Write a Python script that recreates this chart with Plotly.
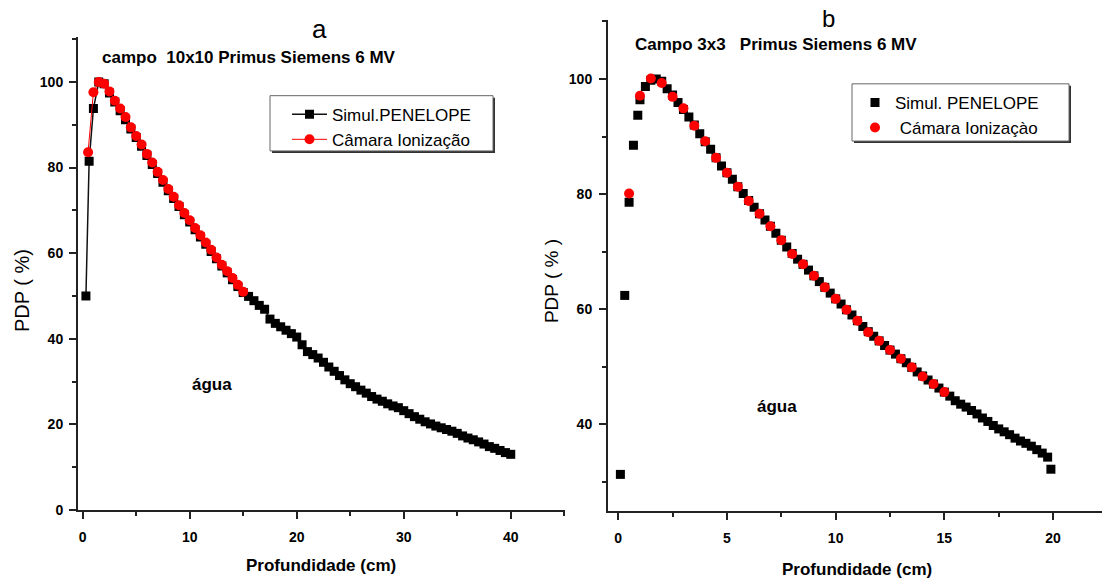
import plotly.graph_objects as go

W, H = 1102, 587

# ---- Panel a: field 10x10, Primus Siemens 6 MV ----
pen10_x = [0.3, 0.6, 1.0, 1.5, 2.0, 2.5, 3.0, 3.5, 4.0, 4.5, 5.0, 5.5, 6.0, 6.5, 7.0, 7.5,
           8.0, 8.5, 9.0, 9.5, 10.0, 10.5, 11.0, 11.5, 12.0, 12.5, 13.0, 13.5, 14.0, 14.5,
           15.0, 15.5, 16.0, 16.5, 17.0, 17.5, 18.0, 18.5, 19.0, 19.5, 20.0, 20.5, 21.0,
           21.5, 22.0, 22.5, 23.0, 23.5, 24.0, 24.5, 25.0, 25.5, 26.0, 26.5, 27.0, 27.5,
           28.0, 28.5, 29.0, 29.5, 30.0, 30.5, 31.0, 31.5, 32.0, 32.5, 33.0, 33.5, 34.0,
           34.5, 35.0, 35.5, 36.0, 36.5, 37.0, 37.5, 38.0, 38.5, 39.0, 39.5, 40.0]
pen10_y = [50.0, 81.5, 93.8, 100.0, 99.6, 97.4, 95.3, 93.3, 91.2, 89.0, 87.0, 85.0, 82.8,
           80.7, 78.6, 76.6, 74.6, 72.8, 70.9, 69.0, 67.3, 65.5, 63.8, 62.1, 60.4, 58.7,
           57.0, 55.4, 53.8, 52.2, 50.8, 49.9, 48.9, 47.8, 46.9, 44.6, 43.6, 42.8, 42.0,
           41.2, 40.4, 38.6, 37.0, 36.3, 35.5, 34.5, 33.4, 32.4, 31.4, 30.4, 29.5, 28.8,
           28.0, 27.3, 26.5, 25.9, 25.4, 24.8, 24.3, 23.9, 23.2, 22.5, 21.8, 21.2, 20.6,
           20.1, 19.6, 19.2, 18.8, 18.4, 17.9, 17.3, 16.8, 16.4, 15.9, 15.4, 14.8, 14.4,
           13.9, 13.4, 13.0]

cam10_x = [0.5, 1.0, 1.5, 2.0, 2.5, 3.0, 3.5, 4.0, 4.5, 5.0, 5.5, 6.0, 6.5, 7.0, 7.5,
           8.0, 8.5, 9.0, 9.5, 10.0, 10.5, 11.0, 11.5, 12.0, 12.5, 13.0, 13.5, 14.0, 14.5, 15.0]
cam10_y = [83.6, 97.6, 100.0, 99.6, 97.8, 95.6, 93.8, 91.8, 89.4, 87.4, 85.4, 83.2, 81.2,
           79.0, 77.1, 75.0, 73.2, 71.2, 69.4, 67.7, 65.9, 64.2, 62.5, 60.8, 59.0, 57.3,
           55.8, 54.2, 52.6, 51.0]

# ---- Panel b: field 3x3, Primus Siemens 6 MV ----
pen3_x = [0.1, 0.3, 0.5, 0.7, 0.9, 1.0, 1.25, 1.5, 1.75, 2.0, 2.25, 2.5, 2.75, 3.0, 3.25,
          3.5, 3.75, 4.0, 4.25, 4.5, 4.75, 5.0, 5.25, 5.5, 5.75, 6.0, 6.25, 6.5, 6.75, 7.0,
          7.25, 7.5, 7.75, 8.0, 8.25, 8.5, 8.75, 9.0, 9.25, 9.5, 9.75, 10.0, 10.25, 10.5,
          10.75, 11.0, 11.25, 11.5, 11.75, 12.0, 12.25, 12.5, 12.75, 13.0, 13.25, 13.5,
          13.75, 14.0, 14.25, 14.5, 14.75, 15.0, 15.25, 15.5, 15.75, 16.0, 16.25, 16.5,
          16.75, 17.0, 17.25, 17.5, 17.75, 18.0, 18.25, 18.5, 18.75, 19.0, 19.25, 19.5,
          19.75, 19.9]
pen3_y = [31.3, 62.4, 78.6, 88.5, 93.7, 96.4, 98.7, 99.8, 100.0, 99.6, 98.3, 97.2, 95.9,
          94.7, 93.4, 92.0, 90.5, 89.1, 87.8, 86.3, 84.9, 83.7, 82.6, 81.3, 80.1, 78.9,
          77.7, 76.6, 75.5, 74.4, 73.2, 72.0, 70.8, 69.7, 68.7, 67.8, 66.8, 65.8, 64.8,
          63.8, 62.8, 61.8, 60.9, 59.9, 59.0, 58.0, 57.0, 56.1, 55.3, 54.5, 53.7, 52.9,
          52.2, 51.4, 50.7, 49.9, 49.1, 48.4, 47.7, 47.0, 46.3, 45.6, 44.9, 44.1, 43.5,
          43.0, 42.4, 41.8, 41.1, 40.5, 39.8, 39.2, 38.7, 38.2, 37.6, 37.1, 36.7, 36.2,
          35.6, 35.0, 34.3, 32.2]

cam3_x = [0.5, 1.0, 1.5, 2.0, 2.5, 3.0, 3.5, 4.0, 4.5, 5.0, 5.5, 6.0, 6.5, 7.0, 7.5,
          8.0, 8.5, 9.0, 9.5, 10.0, 10.5, 11.0, 11.5, 12.0, 12.5, 13.0, 13.5, 14.0, 14.5, 15.0]
cam3_y = [80.1, 97.1, 100.1, 99.3, 96.9, 94.9, 91.9, 89.2, 86.3, 83.7, 81.3, 78.8, 76.6,
          74.4, 72.0, 69.6, 67.8, 65.8, 63.8, 61.8, 59.9, 58.0, 56.0, 54.5, 52.9, 51.4,
          49.9, 48.3, 47.0, 45.6]

# tick positions and labels
xa_ticks = [0, 10, 20, 30, 40]
ya_ticks = [0, 20, 40, 60, 80, 100]
xb_ticks = [0, 5, 10, 15, 20]
yb_ticks = [40, 60, 80, 100]


def px(x):
    return x / W


def py(y):
    return 1 - y / H


def bold_labels(vals):
    return ["<b>%g</b>" % v for v in vals]


REG = "Liberation Sans, Arial"
INK = "#222222"

fig = go.Figure()

fig.add_trace(go.Scatter(
    x=pen10_x, y=pen10_y, mode="lines+markers", name="Simul.PENELOPE",
    line=dict(color="#111111", width=1.5),
    marker=dict(symbol="square", size=9, color="black"),
    xaxis="x", yaxis="y", legend="legend"))
fig.add_trace(go.Scatter(
    x=cam10_x, y=cam10_y, mode="lines+markers", name="Câmara Ionização",
    line=dict(color="red", width=1),
    marker=dict(symbol="circle", size=10, color="red"),
    xaxis="x", yaxis="y", legend="legend"))

fig.add_trace(go.Scatter(
    x=pen3_x, y=pen3_y, mode="markers", name="Simul. PENELOPE",
    marker=dict(symbol="square", size=9, color="black"),
    xaxis="x2", yaxis="y2", legend="legend2"))
fig.add_trace(go.Scatter(
    x=cam3_x, y=cam3_y, mode="markers", name=" Cámara Ionizaçào",
    marker=dict(symbol="circle", size=10, color="red"),
    xaxis="x2", yaxis="y2", legend="legend2"))

axis_common = dict(
    showline=True, linecolor=INK, linewidth=2, showgrid=False, zeroline=False,
    ticks="outside", ticklen=7, tickwidth=2, tickcolor=INK, tickmode="array",
    tickfont=dict(family=REG, size=14, color="black"),
)


def minor(step):
    return dict(dtick=step, tick0=0, ticks="outside", ticklen=4, tickwidth=2,
                tickcolor=INK, showgrid=False)


fig.update_layout(
    width=W, height=H,
    margin=dict(l=0, r=0, t=0, b=0),
    paper_bgcolor="white", plot_bgcolor="white",
    xaxis=dict(domain=[px(78), px(565)], range=[-0.44, 45.07], anchor="y",
               tickvals=xa_ticks, ticktext=bold_labels(xa_ticks), minor=minor(5),
               ticklabelstandoff=6, **axis_common),
    yaxis=dict(domain=[py(517), py(38)], range=[0, 110.4], anchor="x",
               tickvals=ya_ticks, ticktext=bold_labels(ya_ticks), minor=minor(10),
               ticklabelstandoff=3, **axis_common),
    xaxis2=dict(domain=[px(608), 1.0], range=[-0.47, 22.25], anchor="y2",
                tickvals=xb_ticks, ticktext=bold_labels(xb_ticks), minor=minor(2.5),
                ticklabelstandoff=6, **axis_common),
    yaxis2=dict(domain=[py(518), py(20)], range=[24.95, 110.3], anchor="x2",
                tickvals=yb_ticks, ticktext=bold_labels(yb_ticks), minor=minor(10),
                ticklabelstandoff=4, **axis_common),
    showlegend=True,
    legend=dict(x=px(287), y=py(98), xanchor="left", yanchor="top",
                bgcolor="rgba(0,0,0,0)", borderwidth=0, itemwidth=35,
                font=dict(family=REG, size=17, color="black"), tracegroupgap=0),
    legend2=dict(x=px(855), y=py(86), xanchor="left", yanchor="top",
                 bgcolor="rgba(0,0,0,0)", borderwidth=0,
                 font=dict(family=REG, size=17, color="black"), tracegroupgap=0),
)

# legend frames with a drop shadow
shapes = []
for (x0, y0, x1, y1) in [(270, 97, 493, 153), (852, 85, 1069, 143)]:
    shapes.append(dict(type="rect", xref="paper", yref="paper", layer="above",
                       x0=px(x0 + 2), x1=px(x1 + 2), y0=py(y1 + 2), y1=py(y0 + 2),
                       fillcolor="#333333", line=dict(width=0)))
    shapes.append(dict(type="rect", xref="paper", yref="paper", layer="above",
                       x0=px(x0), x1=px(x1), y0=py(y1), y1=py(y0),
                       fillcolor="white", line=dict(color="#666666", width=1)))
fig.update_layout(shapes=shapes)

annotations = [
    # panel letters
    dict(x=px(319), y=py(29), text="a", font=dict(family=REG, size=26)),
    dict(x=px(828), y=py(19), text="b", font=dict(family=REG, size=24)),
    # panel subtitles
    dict(x=px(100), y=py(58), text="<b>campo  10x10 Primus Siemens 6 MV</b>", xanchor="left",
         font=dict(family=REG, size=17)),
    dict(x=px(633), y=py(45), text="<b>Campo 3x3   Primus Siemens 6 MV</b>", xanchor="left",
         font=dict(family=REG, size=17)),
    # axis titles
    dict(x=px(22), y=py(295), text="PDP ( %)", textangle=-90,
         font=dict(family=REG, size=20)),
    dict(x=px(551), y=py(285), text="PDP ( % )", textangle=-90,
         font=dict(family=REG, size=19)),
    dict(x=px(321), y=py(573), text="<b>Profundidade (cm)</b>",
         font=dict(family=REG, size=17)),
    dict(x=px(857), y=py(577), text="<b>Profundidade (cm)</b>",
         font=dict(family=REG, size=17)),
    # medium label
    dict(x=px(212), y=py(390), text="<b>água</b>", font=dict(family=REG, size=17)),
    dict(x=px(777), y=py(412), text="<b>água</b>", font=dict(family=REG, size=17)),
]
for a in annotations:
    a.setdefault("xanchor", "center")
    a.update(xref="paper", yref="paper", showarrow=False, yanchor="middle")
    a["font"].setdefault("color", "black")
fig.update_layout(annotations=annotations)

fig.write_html("out.html")
